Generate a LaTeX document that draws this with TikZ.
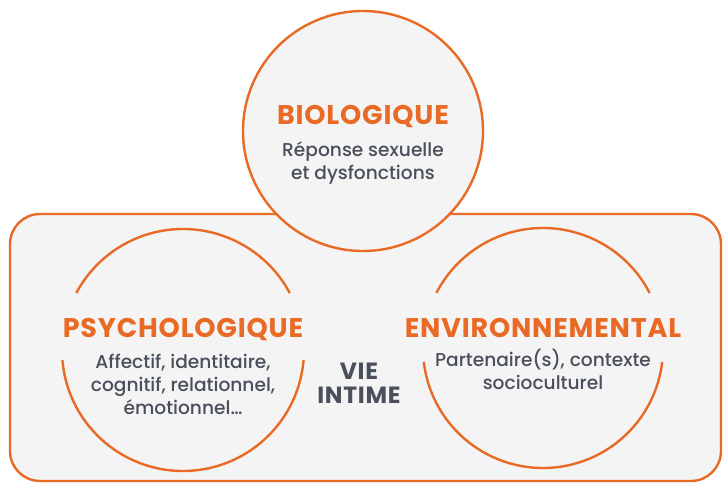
\documentclass[tikz,border=0pt]{standalone}
\usepackage{fontspec}
\setmainfont{Poppins}[UprightFont=* Medium]
\newfontfamily\titlefont{Poppins}[UprightFont=* Bold,LetterSpace=3]
\definecolor{orng}{HTML}{E96A24}
\definecolor{slate}{HTML}{4A505B}
\definecolor{panel}{HTML}{F4F4F4}
\begin{document}
\begin{tikzpicture}[x=1pt,y=1pt,
  ring/.style={draw=orng,line width=2.4pt},
  title/.style={text=orng,font=\titlefont\fontsize{27}{27}\selectfont,inner sep=0pt},
  body/.style={text=slate,font=\fontsize{18.6}{22.8}\selectfont,align=center,inner sep=0pt},
  vie/.style={text=slate,font=\titlefont\fontsize{23.5}{24}\selectfont,align=center,inner sep=0pt}]
\useasboundingbox (0,0) rectangle (723,-482);
% panel
\draw[ring,fill=panel,rounded corners=30pt] (10,-214) rectangle (721,-481);
% top circle
\node[circle,ring,fill=panel,minimum size=240pt,inner sep=0pt] (bio) at (363,-131) {};
% left circle arcs
\coordinate (psyc) at (183,-350);
\draw[ring] ([shift={(28.1:121)}]psyc) arc[start angle=28.1,end angle=151.9,radius=121];
\draw[ring] ([shift={(184.7:121)}]psyc) arc[start angle=184.7,end angle=355.3,radius=121];
% right circle arcs
\coordinate (envc) at (543,-348);
\draw[ring] ([shift={(27.3:120)}]envc) arc[start angle=27.3,end angle=152.7,radius=120];
\draw[ring] ([shift={(186.7:120)}]envc) arc[start angle=186.7,end angle=353.3,radius=120];
% texts
\node[title,anchor=base] (biot) at (363,-124) {BIOLOGIQUE};
\node[body,anchor=base] (biob) at (363,-179) {Réponse sexuelle\\et dysfonctions};
\node[title,anchor=base] (psyt) at (183,-337) {PSYCHOLOGIQUE};
\node[body,anchor=base] (psyb) at (183,-414) {Affectif, identitaire,\\cognitif, relationnel,\\émotionnel…};
\node[title,anchor=base] (envt) at (543,-337) {ENVIRONNEMENTAL};
\node[body,anchor=base] (envb) at (543,-389) {Partenaire(s), contexte\\socioculturel};
\node[vie,anchor=base] (vie) at (359,-403) {VIE\\INTIME};
\end{tikzpicture}
\end{document}
